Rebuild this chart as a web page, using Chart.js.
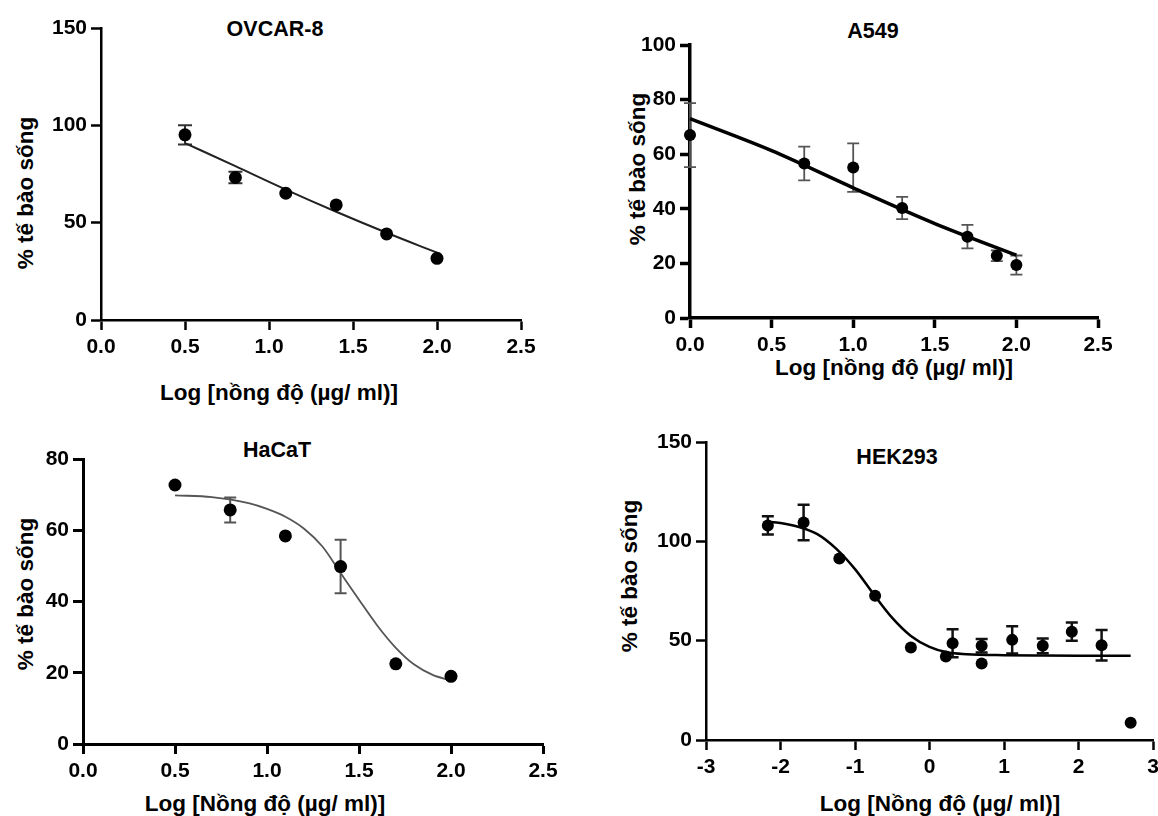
<!DOCTYPE html>
<html>
<head>
<meta charset="utf-8">
<script src="https://cdn.jsdelivr.net/npm/chart.js@4.4.1/dist/chart.umd.min.js"></script>
<style>
  body { margin: 0; width: 1158px; height: 816px; overflow: hidden; background: #fff; position: relative;
         font-family: "Liberation Sans", Arial, sans-serif; }
  canvas { position: absolute; }
  .lbl { position: absolute; font-weight: bold; color: #000; white-space: nowrap; transform: translate(-50%, -50%); }
  .ttl { font-size: 21.5px; }
  .axt { font-size: 22.5px; }
  .rot { transform: translate(-50%, -50%) rotate(-90deg); }
</style>
</head>
<body>

<div class="lbl ttl" style="left:275px;top:29px">OVCAR-8</div>
<div class="lbl axt" style="left:279px;top:393px">Log [nồng độ (µg/ ml)]</div>
<div class="lbl axt rot" style="left:26px;top:193px">% tế bào sống</div>

<div class="lbl ttl" style="left:873px;top:31px">A549</div>
<div class="lbl axt" style="left:894px;top:368px">Log [nồng độ (µg/ ml)]</div>
<div class="lbl axt rot" style="left:638px;top:169px">% tế bào sống</div>

<div class="lbl ttl" style="left:277px;top:450px">HaCaT</div>
<div class="lbl axt" style="left:265px;top:804px">Log [Nồng độ (µg/ ml)]</div>
<div class="lbl axt rot" style="left:26px;top:594px">% tế bào sống</div>

<div class="lbl ttl" style="left:897px;top:457px">HEK293</div>
<div class="lbl axt" style="left:940px;top:804px">Log [Nồng độ (µg/ ml)]</div>
<div class="lbl axt rot" style="left:630px;top:576px">% tế bào sống</div>

<script>
// OVCAR-8
const ovcarX = [0.5, 0.8, 1.1, 1.4, 1.7, 2.0];
const ovcarY = [95.1, 73.2, 65.1, 59.1, 44.2, 31.7];
const ovcarErr = [5, 3, 0, 0, 0, 0];
const ovcarFitX = [0.5, 0.8, 1.1, 1.4, 1.7, 2.0];
const ovcarFitY = [90.9, 79.0, 67.0, 55.6, 44.8, 34.6];

// A549
const a549X = [0, 0.7, 1.0, 1.3, 1.7, 1.88, 2.0];
const a549Y = [67.0, 56.6, 55.1, 40.3, 29.8, 22.8, 19.4];
const a549Err = [11.7, 6.2, 8.9, 4.1, 4.3, 2.0, 3.5];
const a549FitX = [0, 0.5, 1.0, 1.5, 2.0];
const a549FitY = [73.0, 61.3, 47.7, 34.6, 23.0];

// HaCaT
const hacatX = [0.5, 0.8, 1.1, 1.4, 1.7, 2.0];
const hacatY = [72.7, 65.7, 58.4, 49.8, 22.5, 19.0];
const hacatErr = [0, 3.5, 0, 7.5, 0, 0];
const hacatFitX = [0.5, 0.7, 0.9, 1.0, 1.1, 1.2, 1.3, 1.4, 1.5, 1.6, 1.7, 1.8, 1.9, 2.0];
const hacatFitY = [69.8, 69.3, 67.6, 66.0, 63.8, 60.5, 55.5, 48.0, 40.5, 33.2, 27.0, 22.3, 19.4, 17.8];

// HEK293
const hekX = [-2.17, -1.69, -1.21, -0.73, -0.25, 0.22, 0.31, 0.7, 0.7, 1.11, 1.52, 1.91, 2.31, 2.7];
const hekY = [108, 109.5, 91.4, 72.6, 46.6, 42, 48.7, 47.4, 38.5, 50.4, 47.4, 54.5, 47.7, 8.7];
const hekErr = [4.6, 8.9, 0, 0, 0, 0, 7, 3.4, 0, 6.9, 3.7, 4.6, 7.7, 0];
const hekFitX = [-2.2, -2.0, -1.75, -1.5, -1.25, -1.0, -0.75, -0.5, -0.25, 0, 0.25, 0.5, 1.0, 1.5, 2.0, 2.7];
const hekFitY = [110, 109.2, 107.2, 103.5, 96.2, 86, 73.4, 61.5, 52.4, 46.9, 44.0, 43.2, 42.7, 42.5, 42.4, 42.4];

const toPts = (xs, ys) => xs.map((x, i) => ({ x: x, y: ys[i] }));

// error bars under the markers
const errorBars = {
  id: 'errorBars',
  beforeDatasetsDraw(chart) {
    const ctx = chart.ctx;
    const sx = chart.scales.x, sy = chart.scales.y;
    chart.data.datasets.forEach(ds => {
      if (!ds.errors) return;
      ctx.save();
      ctx.strokeStyle = ds.errColor;
      ctx.lineWidth = ds.errWidth;
      ds.data.forEach((p, i) => {
        const e = ds.errors[i];
        if (!e) return;
        const px = sx.getPixelForValue(p.x);
        const top = sy.getPixelForValue(p.y + e);
        const bot = sy.getPixelForValue(p.y - e);
        const c = ds.capHalf;
        ctx.beginPath();
        ctx.moveTo(px, top); ctx.lineTo(px, bot);
        ctx.moveTo(px - c, top); ctx.lineTo(px + c, top);
        ctx.moveTo(px - c, bot); ctx.lineTo(px + c, bot);
        ctx.stroke();
      });
      ctx.restore();
    });
  }
};

const YW = 70, XH = 45, PT = 20, PR = 25;
const tickFont = { family: '"Liberation Sans", Arial, sans-serif', size: 21, weight: 'bold' };

function makePanel(p) {
  const cv = document.createElement('canvas');
  const w = p.R - p.L + YW + PR, h = p.B - p.T + PT + XH;
  cv.width = w; cv.height = h;
  cv.style.left = (p.L - YW) + 'px';
  cv.style.top = (p.T - PT) + 'px';
  cv.style.width = w + 'px';
  cv.style.height = h + 'px';
  document.body.appendChild(cv);

  const axis = (min, max, step, fmt, pad, fit) => ({
    type: 'linear', min: min, max: max,
    ticks: { stepSize: step, color: '#000', font: tickFont, padding: pad, callback: fmt, maxRotation: 0, autoSkip: false },
    grid: { display: true, drawOnChartArea: false, drawTicks: true, tickLength: 10, tickWidth: p.axisW, color: '#000' },
    border: { display: true, color: '#000', width: p.axisW },
    afterFit: fit
  });

  new Chart(cv, {
    type: 'scatter',
    data: {
      datasets: [{
        data: toPts(p.xs, p.ys),
        backgroundColor: '#000', borderColor: '#000',
        pointRadius: p.r, pointHoverRadius: p.r, borderWidth: 0,
        errors: p.err, errColor: p.errColor, errWidth: p.errW, capHalf: p.cap,
        clip: false
      }, {
        type: 'line',
        data: toPts(p.fx, p.fy),
        borderColor: p.fitColor, borderWidth: p.fitW,
        pointRadius: 0, fill: false,
        cubicInterpolationMode: 'monotone',
        clip: false
      }]
    },
    options: {
      responsive: false,
      devicePixelRatio: 1,
      animation: false,
      layout: { padding: { top: PT, right: PR, left: 0, bottom: 0 } },
      plugins: { legend: { display: false }, tooltip: { enabled: false } },
      scales: {
        x: axis(p.xMin, p.xMax, p.xStep, p.xFmt, 5, s => { s.height = XH; }),
        y: axis(0, p.yMax, p.yStep, v => v, 4, s => { s.width = YW; })
      }
    },
    plugins: [errorBars]
  });
}

const f1 = v => v.toFixed(1);
const f0 = v => Math.round(v);

makePanel({ L: 101, R: 521, T: 28, B: 320, xMin: 0, xMax: 2.5, xStep: 0.5, xFmt: f1, yMax: 150, yStep: 50,
  xs: ovcarX, ys: ovcarY, err: ovcarErr, fx: ovcarFitX, fy: ovcarFitY,
  axisW: 2.5, r: 6.5, fitColor: '#222', fitW: 2, errColor: '#333', errW: 2, cap: 7 });

makePanel({ L: 690, R: 1098, T: 45, B: 318, xMin: 0, xMax: 2.5, xStep: 0.5, xFmt: f1, yMax: 100, yStep: 20,
  xs: a549X, ys: a549Y, err: a549Err, fx: a549FitX, fy: a549FitY,
  axisW: 3.5, r: 6, fitColor: '#000', fitW: 3.5, errColor: '#555', errW: 1.8, cap: 6 });

makePanel({ L: 83, R: 543, T: 459, B: 744, xMin: 0, xMax: 2.5, xStep: 0.5, xFmt: f1, yMax: 80, yStep: 20,
  xs: hacatX, ys: hacatY, err: hacatErr, fx: hacatFitX, fy: hacatFitY,
  axisW: 3, r: 6.5, fitColor: '#555', fitW: 1.8, errColor: '#555', errW: 2, cap: 6 });

makePanel({ L: 706, R: 1153, T: 442, B: 740, xMin: -3, xMax: 3, xStep: 1, xFmt: f0, yMax: 150, yStep: 50,
  xs: hekX, ys: hekY, err: hekErr, fx: hekFitX, fy: hekFitY,
  axisW: 2.5, r: 6, fitColor: '#000', fitW: 2.5, errColor: '#111', errW: 2.5, cap: 6 });
</script>
</body>
</html>
